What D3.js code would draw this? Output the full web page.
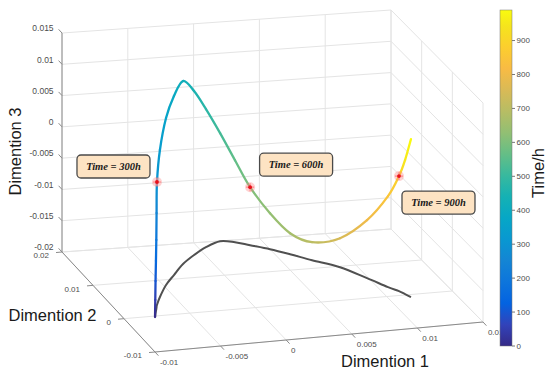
<!DOCTYPE html>
<html>
<head>
<meta charset="utf-8">
<script src="https://cdn.jsdelivr.net/npm/d3@7"></script>
<style>
  body { margin: 0; background: #fff; }
  svg { display: block; font-family: "Liberation Sans", Arial, sans-serif; }
</style>
</head>
<body>
<script>
// trajectory (time in h, three dimensions)
const time = [0, 50, 100, 150, 200, 250, 300, 330, 360, 390, 420, 450, 480, 520, 560, 600, 630, 660, 700, 750, 800, 850, 900, 950, 990]
const dim1 = [-0.0077, -0.00755, -0.0074, -0.00724, -0.00708, -0.00693, -0.00677, -0.00603, -0.0048, -0.00357, -0.00219, -0.0008, 0.00059, 0.002, 0.00299, 0.00386, 0.005, 0.00608, 0.00723, 0.00873, 0.00988, 0.01074, 0.01124, 0.01146, 0.01167]
const dim2 = [-0.00027, 0.00029, 0.00084, 0.00139, 0.00195, 0.0025, 0.00305, 0.00524, 0.00849, 0.01116, 0.0141, 0.01645, 0.0185, 0.01994, 0.01934, 0.01815, 0.01656, 0.01466, 0.01242, 0.00974, 0.00588, 0.00273, 0.00129, 0.00026, -0.00077]
const dim3 = [-0.02, -0.0176, -0.01489, -0.01201, -0.00897, -0.00498, -0.00034, 0.00349, 0.00669, 0.00861, 0.00925, 0.00621, 0.00205, -0.00274, -0.0069, -0.01073, -0.01425, -0.01664, -0.01712, -0.01537, -0.01073, -0.00546, -0.00162, 0.00142, 0.00525]

const markTimes = [300, 600, 900]
const markLabels = ['Time = 300h', 'Time = 600h', 'Time = 900h']

const xTicks = [-0.01, -0.005, 0, 0.005, 0.01, 0.015]
const yTicks = [-0.01, 0, 0.01, 0.02]
const zTicks = [-0.02, -0.015, -0.01, -0.005, 0, 0.005, 0.01, 0.015]
const cbTicks = [0, 100, 200, 300, 400, 500, 600, 700, 800, 900]

// parula colormap (every 4th entry of the 64 colour table)
const parula = ['#352A87', '#3243BA', '#0363E1', '#0D75DC', '#1485D4', '#0998D1', '#06A7C6', '#15B1B4', '#38B99E',
    '#65BE86', '#92BF73', '#B7BD64', '#D9BA56', '#F8BB44', '#FCCE2E', '#F5E41D', '#F9FB0E']
const parulaPos = [0, 4, 8, 12, 16, 20, 24, 28, 32, 36, 40, 44, 48, 52, 56, 60, 63].map(i => i / 63)

const width = 550
const height = 379

// screen corners of the floor (z = min)
const F00 = [155, 352] // xmin, ymin
const F10 = [483, 322] // xmax, ymin
const F01 = [62, 252]  // xmin, ymax
const F11 = [391, 229] // xmax, ymax

const xDom = [-0.01, 0.015], yDom = [-0.01, 0.02], zDom = [-0.02, 0.015]
const u = d3.scaleLinear().domain(xDom).range([0, 1])
const v = d3.scaleLinear().domain(yDom).range([0, 1])
const h = d3.scaleLinear().domain(zDom).range([0, 219])

function project(x, y, z) {
    const a = u(x), b = v(y)
    const px = (1 - a) * (1 - b) * F00[0] + a * (1 - b) * F10[0] + (1 - a) * b * F01[0] + a * b * F11[0]
    const py = (1 - a) * (1 - b) * F00[1] + a * (1 - b) * F10[1] + (1 - a) * b * F01[1] + a * b * F11[1]
    return [px, py - h(z)]
}

const tMax = d3.max(time)
const colour = d3.scaleLinear().domain(parulaPos.map(p => p * tMax)).range(parula).interpolate(d3.interpolateRgb)
const cb = d3.scaleLinear().domain([0, tMax]).range([346, 10])

const svg = d3.select('body').append('svg')
    .attr('width', width)
    .attr('height', height)

svg.append('rect').attr('width', width).attr('height', height).attr('fill', '#fff')

const defs = svg.append('defs')
const grid = svg.append('g').attr('stroke', '#e4e4e4').attr('stroke-width', 1).attr('fill', 'none')
const seg = (p, q) => grid.append('line').attr('x1', p[0]).attr('y1', p[1]).attr('x2', q[0]).attr('y2', q[1])

// floor
xTicks.forEach(x => seg(project(x, yDom[0], zDom[0]), project(x, yDom[1], zDom[0])))
yTicks.forEach(y => seg(project(xDom[0], y, zDom[0]), project(xDom[1], y, zDom[0])))
// back wall (y = max)
xTicks.forEach(x => seg(project(x, yDom[1], zDom[0]), project(x, yDom[1], zDom[1])))
zTicks.forEach(z => seg(project(xDom[0], yDom[1], z), project(xDom[1], yDom[1], z)))
// side wall (x = max)
yTicks.forEach(y => seg(project(xDom[1], y, zDom[0]), project(xDom[1], y, zDom[1])))
zTicks.forEach(z => seg(project(xDom[1], yDom[0], z), project(xDom[1], yDom[1], z)))

// axes
const axes = svg.append('g').attr('stroke', '#8a8a8a').attr('stroke-width', 1)
const aline = (p, q) => axes.append('line').attr('x1', p[0]).attr('y1', p[1]).attr('x2', q[0]).attr('y2', q[1])
aline(project(xDom[0], yDom[1], zDom[0]), project(xDom[0], yDom[1], zDom[1]))
aline(project(xDom[0], yDom[0], zDom[0]), project(xDom[0], yDom[1], zDom[0]))
aline(project(xDom[0], yDom[0], zDom[0]), project(xDom[1], yDom[0], zDom[0]))

const unit = (p, q) => { const dx = q[0] - p[0], dy = q[1] - p[1], l = Math.hypot(dx, dy); return [dx / l, dy / l] }
const toBack = unit(F00, F01)
const toLeft = unit(F10, F00)
const labels = svg.append('g').attr('fill', '#4d4d4d')

zTicks.forEach(z => {
    const p = project(xDom[0], yDom[1], z)
    const e = [p[0] + toBack[0] * 5, p[1] + toBack[1] * 5]
    aline(p, e)
    labels.append('text').attr('x', e[0] - 5).attr('y', e[1] - 1).attr('dy', '0.35em')
        .attr('text-anchor', 'end').attr('font-size', 8.5).text(String(z))
})
yTicks.forEach(y => {
    const p = project(xDom[0], y, zDom[0])
    const e = [p[0] + toLeft[0] * 6, p[1] + toLeft[1] * 6]
    aline(p, e)
    labels.append('text').attr('x', e[0] - 7).attr('y', e[1] + 3).attr('dy', '0.35em')
        .attr('text-anchor', 'end').attr('font-size', 8).text(String(y))
})
xTicks.forEach(x => {
    const p = project(x, yDom[0], zDom[0])
    const e = [p[0] - toBack[0] * 5, p[1] - toBack[1] * 5]
    aline(p, e)
    labels.append('text').attr('x', e[0] + 1.5).attr('y', e[1] + 6.5).attr('dy', '0.35em')
        .attr('text-anchor', 'start').attr('font-size', 8).text(String(x))
})

// trajectory and its shadow on the floor
const pts = time.map((t, i) => ({
    t: t,
    p: project(dim1[i], dim2[i], dim3[i]),
    g: project(dim1[i], dim2[i], zDom[0])
}))

svg.append('path')
    .attr('d', d3.line().curve(d3.curveCardinal.tension(0))(pts.map(d => d.g)))
    .attr('fill', 'none')
    .attr('stroke', '#505050')
    .attr('stroke-width', 2)

const traj = svg.append('g').attr('fill', 'none').attr('stroke-width', 2.3).attr('stroke-linecap', 'round')
const n = pts.length
for (let i = 0; i < n - 1; i++) {
    const p0 = pts[Math.max(i - 1, 0)].p, p1 = pts[i].p, p2 = pts[i + 1].p, p3 = pts[Math.min(i + 2, n - 1)].p
    const c1 = [p1[0] + (p2[0] - p0[0]) / 6, p1[1] + (p2[1] - p0[1]) / 6]
    const c2 = [p2[0] - (p3[0] - p1[0]) / 6, p2[1] - (p3[1] - p1[1]) / 6]
    const id = 'seg' + i
    const g = defs.append('linearGradient').attr('id', id).attr('gradientUnits', 'userSpaceOnUse')
        .attr('x1', p1[0]).attr('y1', p1[1]).attr('x2', p2[0]).attr('y2', p2[1] + 0.01)
    g.append('stop').attr('offset', 0).attr('stop-color', colour(pts[i].t))
    g.append('stop').attr('offset', 1).attr('stop-color', colour(pts[i + 1].t))
    traj.append('path')
        .attr('d', `M${p1}C${c1} ${c2} ${p2}`)
        .attr('stroke', `url(#${id})`)
}

// red markers at the annotated times
const marks = pts.filter(d => markTimes.includes(d.t))
const mk = svg.append('g')
marks.forEach(d => {
    const [x, y] = d.p
    mk.append('circle').attr('cx', x).attr('cy', y).attr('r', 5).attr('fill', '#ff7a7a').attr('opacity', 0.35)
    mk.append('path').attr('d', `M${x - 4},${y}H${x + 4}M${x},${y - 4}V${y + 4}`)
        .attr('stroke', '#ff8a8a').attr('stroke-width', 1.2)
    mk.append('circle').attr('cx', x).attr('cy', y).attr('r', 1.9).attr('fill', '#e8101a')
})

// annotation boxes, offset from their markers
const boxShift = [[-43.5, -15.5], [46, -22.5], [39.5, 26.5]]
marks.forEach((d, i) => {
    const cx = d.p[0] + boxShift[i][0], cy = d.p[1] + boxShift[i][1]
    svg.append('rect')
        .attr('x', cx - 36.5).attr('y', cy - 11.5).attr('width', 73).attr('height', 23).attr('rx', 4)
        .attr('fill', '#fde3c3').attr('stroke', '#4a4a4a').attr('stroke-width', 1.3)
    svg.append('text')
        .attr('x', cx).attr('y', cy).attr('dy', '0.35em').attr('text-anchor', 'middle')
        .attr('font-family', '"Liberation Serif", "Times New Roman", serif')
        .attr('font-style', 'italic').attr('font-weight', 'bold').attr('font-size', 10.5)
        .attr('fill', '#1a1a1a')
        .text(markLabels[i])
})

// colour bar
const grad = defs.append('linearGradient').attr('id', 'parula').attr('x1', 0).attr('y1', 1).attr('x2', 0).attr('y2', 0)
parulaPos.forEach((p, i) => grad.append('stop').attr('offset', p).attr('stop-color', parula[i]))
svg.append('rect')
    .attr('x', 500).attr('y', cb(tMax)).attr('width', 12).attr('height', cb(0) - cb(tMax))
    .attr('fill', 'url(#parula)').attr('stroke', '#777').attr('stroke-width', 0.5)
const cbg = svg.append('g')
cbTicks.forEach(t => {
    cbg.append('line').attr('x1', 512).attr('x2', 515).attr('y1', cb(t)).attr('y2', cb(t)).attr('stroke', '#777')
    cbg.append('text').attr('x', 516.5).attr('y', cb(t)).attr('dy', '0.35em')
        .attr('font-size', 8).attr('fill', '#4d4d4d').text(t)
})

// axis titles
const title = (x, y, txt, rot) => svg.append('text')
    .attr('transform', `translate(${x},${y}) rotate(${rot})`)
    .attr('text-anchor', 'middle').attr('font-size', 16.5).attr('fill', '#1a1a1a').text(txt)
title(385, 367, 'Dimention 1', 0)
title(52.5, 321, 'Dimention 2', 0)
title(21, 151.5, 'Dimention 3', -90)
title(544, 173, 'Time/h', -90)
</script>
</body>
</html>
